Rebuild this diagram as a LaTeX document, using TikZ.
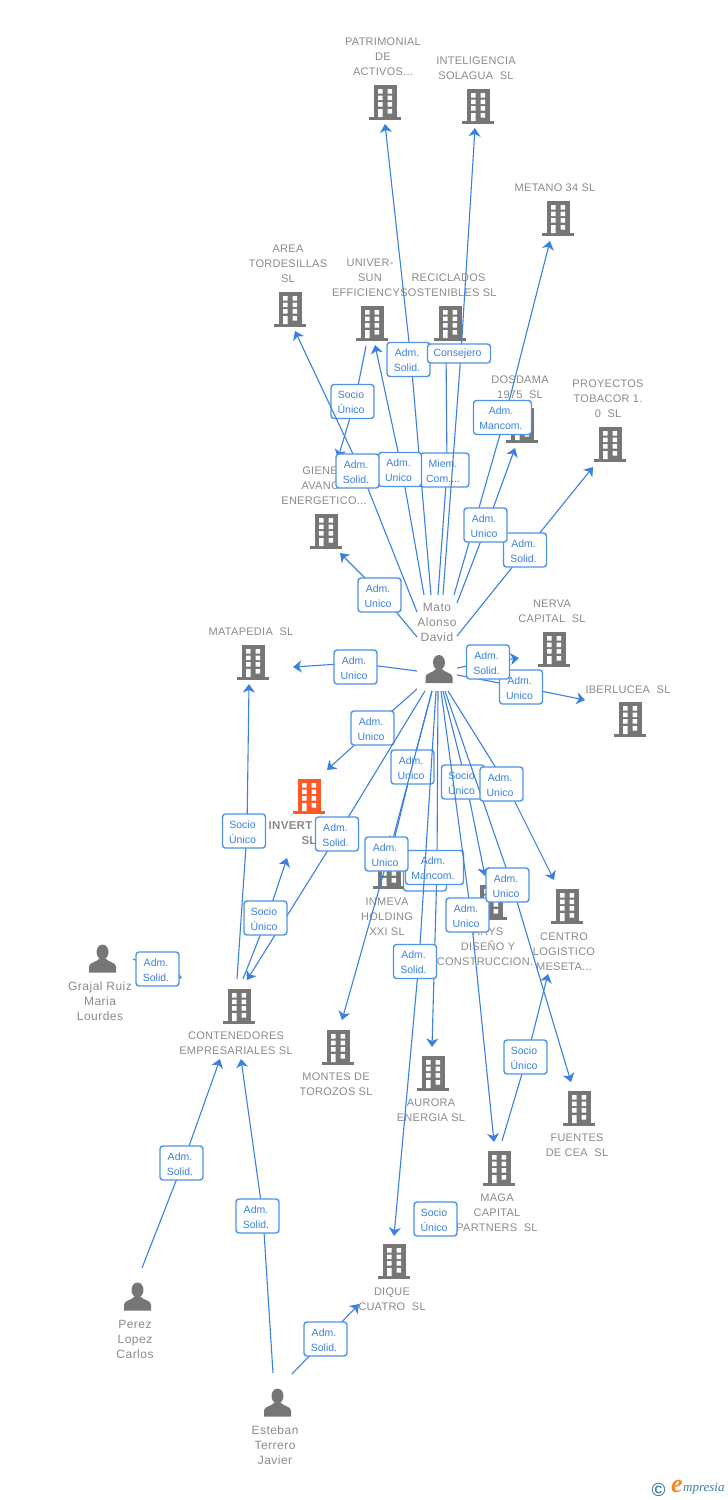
\documentclass[tikz,border=0pt]{standalone}
\usepackage{fontspec}
\setmainfont{Liberation Sans}
\newfontfamily\labelfont{Liberation Sans}[LetterSpace=2.5]
\newfontfamily\personfont{Liberation Sans}[LetterSpace=4]
\newfontfamily\logofont{Liberation Serif}
\usetikzlibrary{arrows.meta}

\definecolor{linkblue}{HTML}{3B80E0}
\definecolor{tagblue}{HTML}{4E93E6}
\definecolor{iconcolor}{HTML}{767676}
\definecolor{labelcolor}{HTML}{8A8A8A}
\definecolor{focuscolor}{HTML}{FF5A26}
\definecolor{logoblue}{HTML}{3F7F9F}
\definecolor{logoorange}{HTML}{F28A1E}

\newcommand{\tagtext}[2]{\rule{0pt}{10pt}#1\kern3pt\\#2\kern3pt}

\tikzset{
    company/.style={font=\labelfont\fontsize{11}{15}\selectfont, text=labelcolor, align=center, inner sep=0pt, yshift=-1pt},
    focus/.style={font=\labelfont\bfseries\fontsize{11.5}{15}\selectfont, text=labelcolor, align=center, inner sep=0pt, yshift=-1pt},
    person/.style={font=\personfont\fontsize{12}{15}\selectfont, text=labelcolor, align=center, inner sep=0pt},
    tag/.style={draw=tagblue, line width=1.4pt, rounded corners=3pt, fill=white, text=linkblue,
        font=\fontsize{10.5}{15}\selectfont, minimum width=43pt, minimum height=34pt, align=center, inner sep=0pt},
    link/.style={draw=linkblue, line width=1.1pt},
    linkto/.style={link, -{Stealth[length=8.5pt,width=12pt,inset=2.5pt]}},
    pics/building/.style={code={
        \fill[#1] (-11.5,-17) rectangle (11.5,15);
        \fill[#1] (-16,15) rectangle (16,17.5);
        \fill[white] (-7,-13) rectangle (-2.5,-8.5) (2.5,-13) rectangle (7,-8.5)
                     (-7,-6.5) rectangle (-2.5,-2)  (2.5,-6.5) rectangle (7,-2)
                     (-7,0) rectangle (-2.5,4.5)    (2.5,0) rectangle (7,4.5)
                     (-7,7) rectangle (-2.5,15)     (2.5,7) rectangle (7,11.5);
    }},
    pics/silhouette/.style={code={
        \fill[iconcolor] (0,-6.5) ellipse (6 and 7.5);
        \fill[iconcolor] (-13.5,14) -- (-13.5,8) .. controls (-13,3.5) and (-6,4) .. (-3,0)
            -- (3,0) .. controls (6,4) and (13,3.5) .. (13.5,8) -- (13.5,14) -- cycle;
    }}
}

\begin{document}
\begin{tikzpicture}[x=1pt,y=-1pt]
    \useasboundingbox (0,0) rectangle (728,1500);

    % the companies
    \pic at (385,102) {building=iconcolor};
    \node[company] (patrimonial) at (383,56) {PATRIMONIAL\\DE\\ACTIVOS...};
    \pic at (478,106) {building=iconcolor};
    \node[company] (inteligencia) at (476,67.5) {INTELIGENCIA\\SOLAGUA\ \ SL};
    \pic at (558,218) {building=iconcolor};
    \node[company] (metano) at (555,187) {METANO 34 SL};
    \pic at (290,309) {building=iconcolor};
    \node[company] (area) at (288,263) {AREA\\TORDESILLAS\\SL};
    \pic at (372,323) {building=iconcolor};
    \node[company] (univer) at (370,277) {UNIVER-\\SUN\\EFFICIENCY\kern8pt};
    \pic at (450,323) {building=iconcolor};
    \node[company] (reciclados) at (448.5,284.5) {RECICLADOS\\SOSTENIBLES SL};
    \pic at (522,425) {building=iconcolor};
    \node[company] (dosdama) at (520,386.5) {DOSDAMA\\1975\ \ SL};
    \pic at (610,444) {building=iconcolor};
    \node[company] (proyectos) at (608,398) {PROYECTOS\\TOBACOR 1.\\0\ \ SL};
    \pic at (326,531) {building=iconcolor};
    \node[company] (giene) at (324,485) {GIENE\phantom{R}\\AVANC\phantom{E}\\ENERGETICO...};
    \pic at (253,662) {building=iconcolor};
    \node[company] (matapedia) at (251,631) {MATAPEDIA\ \ SL};
    \pic at (554,649) {building=iconcolor};
    \node[company] (nerva) at (552,610.5) {NERVA\\CAPITAL\ \ SL};
    \pic at (630,719) {building=iconcolor};
    \node[company] (iberlucea) at (628,689) {IBERLUCEA\ \ SL};
    \pic at (309,796) {building=focuscolor};
    \node[focus] (invert) at (309,832.5) {INVERT\phantom{OLIDA}\\SL};
    \pic at (389,871) {building=iconcolor};
    \node[company] (inmeva) at (387,916) {INMEVA\\HOLDING\\XXI SL};
    \pic at (491,902) {building=iconcolor};
    \node[company] (arys) at (485,946) {\kern6pt ARYS\\\kern6pt DISE\~NO Y\\CONSTRUCCION.};
    \pic at (567,906) {building=iconcolor};
    \node[company] (centro) at (564,951) {CENTRO\\LOGISTICO\\MESETA...};
    \pic at (239,1006) {building=iconcolor};
    \node[company] (contenedores) at (236,1042.5) {CONTENEDORES\\EMPRESARIALES SL};
    \pic at (338,1047) {building=iconcolor};
    \node[company] (montes) at (336,1083.5) {MONTES DE\\TOROZOS SL};
    \pic at (433,1073) {building=iconcolor};
    \node[company] (aurora) at (431,1109.5) {AURORA\\ENERGIA SL};
    \pic at (579,1108) {building=iconcolor};
    \node[company] (fuentes) at (577,1144.5) {FUENTES\\DE CEA\ \ SL};
    \pic at (499,1168) {building=iconcolor};
    \node[company] (maga) at (497,1212) {MAGA\\CAPITAL\\PARTNERS\ \ SL};
    \pic at (394,1261) {building=iconcolor};
    \node[company] (dique) at (392,1298.5) {DIQUE\\CUATRO\ \ SL};

    % the people
    \pic at (439,669) {silhouette};
    \node[person] (mato) at (437,622) {Mato\\Alonso\\David};
    \pic at (102.5,958.5) {silhouette};
    \node[person] (grajal) at (100,1001) {Grajal Ruiz\\Maria\\Lourdes};
    \pic at (137.5,1296.5) {silhouette};
    \node[person] (perez) at (135,1339) {Perez\\Lopez\\Carlos};
    \pic at (277.5,1402.5) {silhouette};
    \node[person] (esteban) at (275,1445) {Esteban\\Terrero\\Javier};

    % the loose ends near the people
    \coordinate (matoA) at (424,595);
    \coordinate (matoB) at (431,595);
    \coordinate (matoC) at (438,595);
    \coordinate (matoD) at (443,595);
    \coordinate (matoE) at (454,595);
    \coordinate (matoF) at (457,603);
    \coordinate (matoG) at (457,636);
    \coordinate (matoH) at (417,612);
    \coordinate (matoI) at (417,637);
    \coordinate (matoJ) at (417,671);
    \coordinate (matoK) at (457,668);
    \coordinate (matoL) at (457,675);
    \coordinate (matoM) at (417,689);
    \coordinate (matoN) at (425,691);
    \coordinate (matoO) at (432,691);
    \coordinate (matoP) at (436,691);
    \coordinate (matoQ) at (438,691);
    \coordinate (matoR) at (441,691);
    \coordinate (matoS) at (443,691);
    \coordinate (matoT) at (445,691);
    \coordinate (matoU) at (448,691);
    \coordinate (grajalEnd) at (133,959);
    \coordinate (perezEnd) at (142,1268);
    \coordinate (estebanA) at (273,1373);
    \coordinate (estebanB) at (292,1374);
    \coordinate (contA) at (237,979);
    \coordinate (contB) at (243,979);
    \coordinate (magaEnd) at (502,1141);
    \coordinate (univerEnd) at (366,346);

    % the arrow tips near the companies
    \coordinate (toPatrimonial) at (385,124);
    \coordinate (toInteligencia) at (475,128);
    \coordinate (toMetano) at (550,241);
    \coordinate (toReciclados) at (446,345);
    \coordinate (toUniver) at (375,345);
    \coordinate (toArea) at (295,331);
    \coordinate (toGiene) at (340,553);
    \coordinate (toGieneB) at (338,458);
    \coordinate (toDosdama) at (515,448);
    \coordinate (toProyectos) at (593,467);
    \coordinate (toMatapedia) at (293,667);
    \coordinate (toMatapediaB) at (249,684);
    \coordinate (toNerva) at (519,658);
    \coordinate (toIberlucea) at (585,700);
    \coordinate (toInvert) at (327,770);
    \coordinate (toInvertB) at (287,858);
    \coordinate (toInmeva) at (393,845);
    \coordinate (toContenedores) at (247,980);
    \coordinate (toContenedoresB) at (182,978);
    \coordinate (toContenedoresC) at (220,1059);
    \coordinate (toContenedoresD) at (241,1059);
    \coordinate (toMontes) at (342,1020);
    \coordinate (toAurora) at (432,1047);
    \coordinate (toMaga) at (494,1142);
    \coordinate (toDique) at (394,1236);
    \coordinate (toDiqueB) at (359,1304);
    \coordinate (toArys) at (485,876);
    \coordinate (toFuentes) at (571,1082);
    \coordinate (toCentro) at (554,880);
    \coordinate (toCentroB) at (548,974);

    % upper fan
    \draw[linkto] (matoC) -- (447,470) -- (toReciclados);
    \node[tag, minimum width=49pt] (miem) at (444.5,470) {\tagtext{Miem.}{Com....}};
    \draw[linkto] (matoB) -- (411,360) -- (toPatrimonial);
    \node[tag] (patrimonialTag) at (408.5,359.5) {\tagtext{Adm.}{Solid.}};
    \draw[linkto] (matoD) -- (461,353) -- (toInteligencia);
    \node[tag, minimum width=63pt, minimum height=19pt] (consejero) at (459,353.5) {Consejero\kern3pt};
    \draw[linkto] (matoA) -- (402,470) -- (toUniver);
    \node[tag] (univerTag) at (400,469.5) {\tagtext{Adm.}{Unico}};
    \draw[linkto] (univerEnd) -- (355,401) -- (toGieneB);
    \node[tag] (gieneTagB) at (352.5,401.5) {\tagtext{Socio}{\'Unico}};
    \draw[linkto] (matoH) -- (361,471) -- (toArea);
    \node[tag] (areaTag) at (357.5,471) {\tagtext{Adm.}{Solid.}};
    \draw[linkto] (matoI) -- (382,595) -- (toGiene);
    \node[tag] (gieneTag) at (379.5,595) {\tagtext{Adm.}{Unico}};
    \draw[linkto] (matoE) -- (505,417) -- (toMetano);
    \node[tag, minimum width=58pt] (metanoTag) at (502.5,417.5) {\tagtext{Adm.}{Mancom.}};
    \draw[linkto] (matoG) -- (526,550) -- (toProyectos);
    \node[tag] (proyectosTag) at (525,550) {\tagtext{Adm.}{Solid.}};
    \draw[linkto] (matoF) -- (487,525) -- (toDosdama);
    \node[tag] (dosdamaTag) at (485.5,525) {\tagtext{Adm.}{Unico}};

    % sideways from the middle
    \draw[linkto] (matoJ) -- (355,663) -- (toMatapedia);
    \node[tag] (matapediaTag) at (355.5,667) {\tagtext{Adm.}{Unico}};
    \draw[linkto] (matoL) -- (521,687) -- (toIberlucea);
    \node[tag] (iberluceaTag) at (521,687) {\tagtext{Adm.}{Unico}};
    \draw[linkto] (matoK) -- (488,662) -- (toNerva);
    \node[tag] (nervaTag) at (488,662) {\tagtext{Adm.}{Solid.}};

    % lower fan
    \draw[linkto] (matoM) -- (373,728) -- (toInvert);
    \node[tag] (invertTag) at (372.5,728) {\tagtext{Adm.}{Unico}};
    \draw[linkto] (matoO) -- (412,767) -- (toInmeva);
    \node[tag] (inmevaTag) at (412.5,767) {\tagtext{Adm.}{Unico}};
    \draw[linkto] (matoS) -- (466,782) -- (toArys);
    \node[tag] (arysTag) at (463,782) {\tagtext{Socio}{\'Unico}};
    \node[tag] (hiddenTag) at (425,874) {};
    \draw[linkto] (matoQ) -- (437,867) -- (toAurora);
    \node[tag, minimum width=58pt] (auroraTag) at (434.5,867.5) {\tagtext{Adm.}{Mancom.}};
    \draw[linkto] (matoP) -- (419,961) -- (toDique);
    \node[tag] (diqueTag) at (415,961.5) {\tagtext{Adm.}{Solid.}};
    \draw[linkto] (matoO) -- (389,854) -- (toMontes);
    \node[tag] (montesTag) at (386.5,854) {\tagtext{Adm.}{Unico}};
    \draw[linkto] (matoR) -- (471,915) -- (toMaga);
    \node[tag] (magaTag) at (467.5,915) {\tagtext{Adm.}{Unico}};
    \draw[linkto] (matoT) -- (512,885) -- (toFuentes);
    \node[tag] (fuentesTag) at (507.5,885) {\tagtext{Adm.}{Unico}};
    \draw[linkto] (matoU) -- (506,784) -- (toCentro);
    \node[tag] (centroTag) at (501.5,784) {\tagtext{Adm.}{Unico}};
    \draw[linkto] (matoN) -- (338,834) -- (toContenedores);
    \node[tag] (contenedoresTag) at (337,834) {\tagtext{Adm.}{Solid.}};

    % the rest
    \draw[linkto] (contA) -- (247,831) -- (toMatapediaB);
    \node[tag] (matapediaTagB) at (244,831) {\tagtext{Socio}{\'Unico}};
    \draw[linkto] (contB) -- (267,918) -- (toInvertB);
    \node[tag] (invertTagB) at (265.5,918) {\tagtext{Socio}{\'Unico}};
    \draw[linkto] (grajalEnd) -- (157.5,969) -- (toContenedoresB);
    \node[tag] (grajalTag) at (157.5,969) {\tagtext{Adm.}{Solid.}};
    \draw[linkto] (perezEnd) -- (183,1163) -- (toContenedoresC);
    \node[tag] (perezTag) at (181.5,1163) {\tagtext{Adm.}{Solid.}};
    \draw[linkto] (estebanA) -- (263,1216) -- (toContenedoresD);
    \node[tag] (estebanTag) at (257.5,1216) {\tagtext{Adm.}{Solid.}};
    \draw[linkto] (estebanB) -- (325.5,1339) -- (toDiqueB);
    \node[tag] (estebanTagB) at (325.5,1339) {\tagtext{Adm.}{Solid.}};
    \draw[linkto] (magaEnd) -- (527,1057) -- (toCentroB);
    \node[tag] (centroTagB) at (525.5,1057) {\tagtext{Socio}{\'Unico}};
    \node[tag] (looseTag) at (435.5,1219) {\tagtext{Socio}{\'Unico}};

    % the logo
    \node[text=logoblue, font=\bfseries\fontsize{19}{19}\selectfont, inner sep=0pt] (logoMark) at (658.5,1489.5) {\textcopyright};
    \node[text=logoorange, font=\logofont\bfseries\itshape\fontsize{26}{26}\selectfont, inner sep=0pt] (logoE) at (677,1486) {e};
    \node[text=logoblue, font=\logofont\itshape\fontsize{13}{13}\selectfont, inner sep=0pt, anchor=west] (logoName) at (683,1489) {mpresia};
\end{tikzpicture}
\end{document}
